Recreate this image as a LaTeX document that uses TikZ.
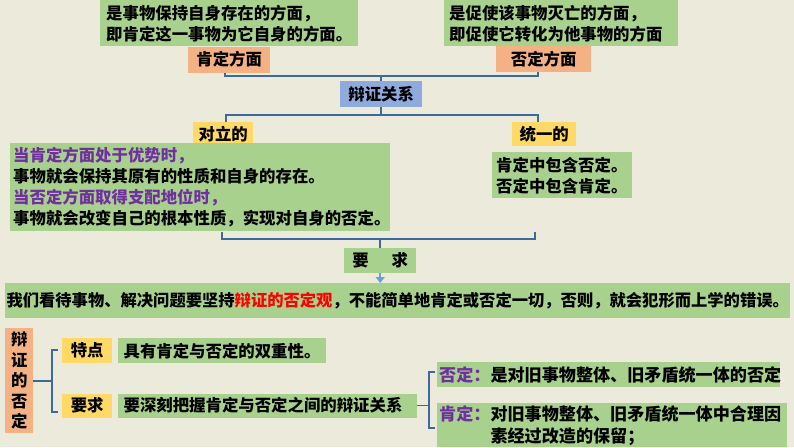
\documentclass[tikz,border=0pt]{standalone}
\usepackage{fontspec}
\setmainfont{Noto Sans CJK SC}
\usepackage{tikz}
\usetikzlibrary{arrows.meta, positioning}
\definecolor{bgpaper}{HTML}{ECEBDB}
\definecolor{leafgreen}{HTML}{A9D18E}
\definecolor{tagorange}{HTML}{F4B183}
\definecolor{tagyellow}{HTML}{FFD966}
\definecolor{tagblue}{HTML}{8FAADC}
\definecolor{braceline}{HTML}{3D6A9E}
\definecolor{arrowblue}{HTML}{6A9FD8}
\definecolor{textpurple}{HTML}{7030A0}

\begin{document}
\begin{tikzpicture}[x=1pt, y=-1pt,
  box/.style={anchor=north west, inner sep=0pt,
    font=\fontsize{16.4}{21}\selectfont\bfseries},
  greenbox/.style={box, fill=leafgreen},
  orangebox/.style={box, fill=tagorange},
  yellowbox/.style={box, fill=tagyellow},
  bluebox/.style={box, fill=tagblue},
  brace/.style={draw=braceline, line width=1.6pt},
  arrow/.style={-{Triangle[length=6pt, width=9pt]}, line width=2.5pt, color=arrowblue},
  bigfont/.style={font=\fontsize{17.1}{22}\selectfont\bfseries},
]
\useasboundingbox (0,0) rectangle (794,447);
\fill[bgpaper] (0,0) rectangle (794,447);

% Row 1 — the two aspects
\node[greenbox, text width=246pt, inner xsep=6pt, minimum height=46pt, align=left]
  (posdesc) at (100,0) {是事物保持自身存在的方面，\\即肯定这一事物为它自身的方面。};
\node[orangebox, below=0pt of posdesc, minimum width=82pt, minimum height=26pt] (pos) {肯定方面};
\node[greenbox, text width=224pt, inner xsep=5pt, minimum height=46pt, align=left]
  (negdesc) at (444,0) {是促使该事物灭亡的方面，\\即促使它转化为他事物的方面};
\node[orangebox, minimum width=95pt, minimum height=26pt] (neg) at (496,46) {否定方面};

\node[bluebox, minimum width=82pt, minimum height=26pt] (rel) at (340,81) {辩证关系};

\draw[brace] ([xshift=-4pt]pos.south) -- ++(0,3) -| ([xshift=-6pt]neg.south);
\draw[brace] (rel.north) -- ++(0,-6);

% Row 2 — opposition and unity
\node[yellowbox, minimum width=60pt, minimum height=24pt] (opp) at (193,122) {对立的};
\node[yellowbox, minimum width=64pt, minimum height=24pt] (uni) at (512,122) {统一的};

\draw[brace] ([xshift=3pt]opp.north) -- ++(0,-7) -| ([xshift=-6pt]uni.north);
\draw[brace] (rel.south) -- ++(0,8);

\node[greenbox, text width=374pt, inner xsep=3pt, minimum height=88pt, align=left]
  (oppdesc) at (10,143)
  {\textcolor{textpurple}{当肯定方面处于优势时，}\\事物就会保持其原有的性质和自身的存在。\\
   \textcolor{textpurple}{当否定方面取得支配地位时，}\\事物就会改变自己的根本性质，实现对自身的否定。};
\node[greenbox, text width=132pt, inner xsep=4pt, minimum height=46pt, align=left]
  (unidesc) at (492,152) {肯定中包含否定。\\否定中包含肯定。};

% Requirement and conclusion
\coordinate (b3l) at (222,232);
\coordinate (b3r) at (535,232);
\node[greenbox, minimum width=72pt, minimum height=25pt] (req) at (344,248) {要\hspace{1.4em}求};
\draw[brace] (b3l) -- ++(0,7) -| (b3r);
\draw[brace] (req.north) -- ++(0,-9);

\node[greenbox, minimum width=785pt, minimum height=35pt,
  font=\fontsize{16.3}{20}\selectfont\bfseries] (concl) at (5,283)
  {我们看待事物、解决问题要坚持\textcolor{red}{辩证的否定观}，不能简单地肯定或否定一切，否则，就会犯形而上学的错误。};
\draw[arrow] (req.south) -- (req.south |- concl.north);

% Bottom — dialectical negation
\node[orangebox, minimum width=28pt, minimum height=105pt, align=center,
  font=\fontsize{16.4}{20.5}\selectfont\bfseries] (dn) at (5,328) {辩\\证\\的\\否\\定};
\node[yellowbox, minimum width=50pt, minimum height=25pt] (feat) at (62,338) {特点};
\node[greenbox, right=5pt of feat, text width=196pt, inner xsep=6pt,
  minimum height=25pt, align=left] (featdesc) {具有肯定与否定的双重性。};
\node[yellowbox, below=30pt of feat, minimum width=50pt, minimum height=24pt] (dem) {要求};
\node[greenbox, right=5pt of dem, text width=287pt, inner xsep=6pt,
  minimum height=24pt, align=left] (demdesc) {要深刻把握肯定与否定之间的辩证关系};

\coordinate (b4t) at (58,350);
\coordinate (b4b) at (58,412);
\draw[brace] (dn.east) -- ++(19,0);
\draw[brace] (b4t) -- ++(-6,0) |- (b4b);

\node[greenbox, bigfont, text width=339pt, inner xsep=2pt, minimum height=25pt, align=left]
  (negpart) at (437,362) {\textcolor{textpurple}{否定：}是对旧事物整体、旧矛盾统一体的否定};
\node[greenbox, bigfont, text width=346pt, inner xsep=2pt, minimum height=44pt, align=left]
  (pospart) at (437,403)
  {\textcolor{textpurple}{肯定：}对旧事物整体、旧矛盾统一体中合理因\\\hspace*{3em}素经过改造的保留；};

\coordinate (b5t) at (435,372);
\coordinate (b5b) at (435,428);
\draw[brace] (demdesc.east) -- ++(13,0);
\draw[brace] (b5t) -- ++(-6,0) |- (b5b);

\end{tikzpicture}
\end{document}
